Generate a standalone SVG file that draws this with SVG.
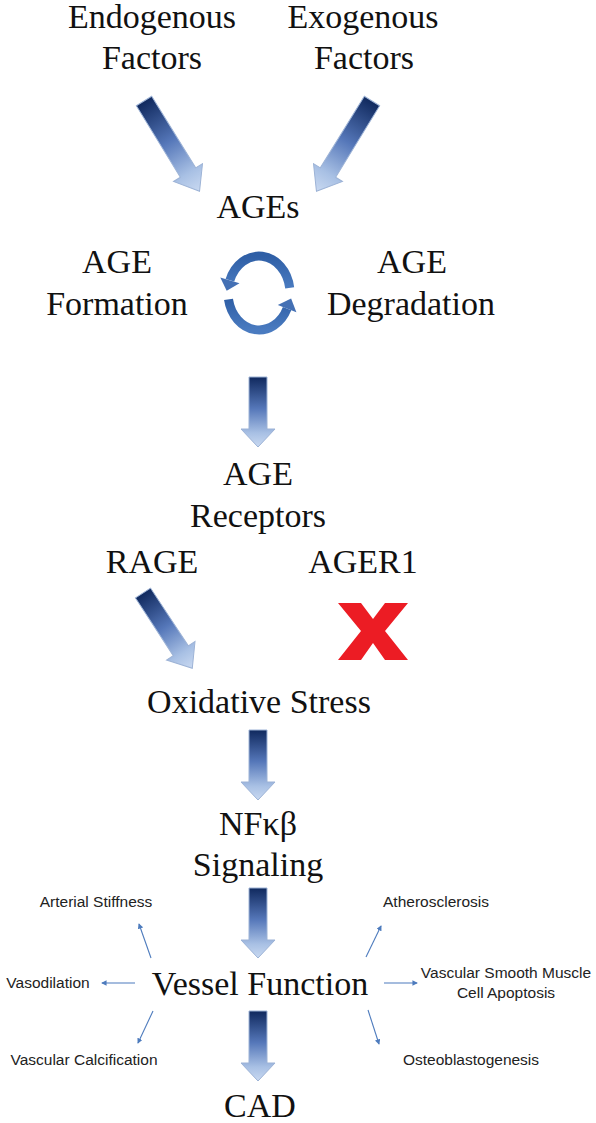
<svg xmlns="http://www.w3.org/2000/svg" width="596" height="1123" viewBox="0 0 596 1123">
  <style>
    .t { font-family: "Liberation Serif", "Times New Roman", serif; font-size: 34px; fill: #111; text-anchor: middle; }
    .s { font-family: "Liberation Sans", Arial, sans-serif; font-size: 15.5px; fill: #222; text-anchor: middle; }
    .blk { fill: url(#grad); stroke: #9db3d6; stroke-width: 1; }
    .thin { stroke: #4d7bbd; stroke-width: 1.1; fill: none; marker-end: url(#sa); }
    .cyc { fill: none; stroke: url(#cgrad); stroke-width: 9; }
    .cyh { fill: #4470b4; }
  </style>
  <defs>
    <linearGradient id="grad" x1="0" y1="0" x2="0" y2="1">
      <stop offset="0" stop-color="#10295e"/>
      <stop offset="0.45" stop-color="#5577b9"/>
      <stop offset="0.8" stop-color="#a8c0e4"/>
      <stop offset="1" stop-color="#c9d9f1"/>
    </linearGradient>
    <linearGradient id="cgrad" x1="0" y1="0" x2="0" y2="1">
      <stop offset="0" stop-color="#2f5fa6"/>
      <stop offset="1" stop-color="#4a7bc0"/>
    </linearGradient>
    <marker id="sa" viewBox="0 0 6 6" refX="5" refY="3" markerWidth="5" markerHeight="5" orient="auto">
      <path d="M0,0 L6,3 L0,6 z" fill="#4d7bbd"/>
    </marker>
    <path id="av" d="M-9,0 H9 V52 H17 L0,70 L-17,52 H-9 Z"/>
    <path id="ad" d="M-9,0 H9 V84 H17 L0,106 L-17,84 H-9 Z"/>
    <path id="ar" d="M-9,0 H9 V69 H17 L0,90 L-17,69 H-9 Z"/>
  </defs>

  <g id="connectors">
    <use href="#ad" class="blk" transform="translate(144,101) rotate(-31.6)"/>
    <use href="#ad" class="blk" transform="translate(372,101) rotate(31.6)"/>
    <use href="#av" class="blk" transform="translate(258,377)"/>
    <use href="#ar" class="blk" transform="translate(143,593) rotate(-33.2)"/>
    <use href="#av" class="blk" transform="translate(258,730)"/>
    <use href="#av" class="blk" transform="translate(258,888)"/>
    <use href="#av" class="blk" transform="translate(258,1011)"/>
    <g id="cycle">
      <path class="cyc" d="M289.7,287.9 A31,37 0 0 0 229.9,280.3"/>
      <polygon class="cyh" points="239.5,283.2 220.3,277.4 226.7,290.8"/>
      <path class="cyc" d="M228.5,299.4 A31,37 0 0 0 287.1,308.6"/>
      <polygon class="cyh" points="296.4,312.2 277.8,305.0 291.1,298.4"/>
    </g>
    <line class="thin" x1="151" y1="958" x2="139" y2="924"/>
    <line class="thin" x1="366" y1="957" x2="381" y2="926"/>
    <line class="thin" x1="135" y1="983" x2="102" y2="983"/>
    <line class="thin" x1="384" y1="983" x2="417" y2="983"/>
    <line class="thin" x1="153" y1="1011" x2="138" y2="1043"/>
    <line class="thin" x1="368" y1="1010" x2="379" y2="1044"/>
  </g>

  <g id="endogenous"><text class="t" x="152" y="28">Endogenous</text><text class="t" x="152" y="69">Factors</text></g>
  <g id="exogenous"><text class="t" x="363" y="28">Exogenous</text><text class="t" x="364" y="69">Factors</text></g>
  <g id="ages"><text class="t" x="258" y="218">AGEs</text></g>
  <g id="formation"><text class="t" x="117" y="273">AGE</text><text class="t" x="117" y="315">Formation</text></g>
  <g id="degradation"><text class="t" x="412" y="273">AGE</text><text class="t" x="411" y="315">Degradation</text></g>
  <g id="receptors"><text class="t" x="258" y="485">AGE</text><text class="t" x="258" y="527">Receptors</text></g>
  <g id="rage"><text class="t" x="152" y="573">RAGE</text></g>
  <g id="ager1"><text class="t" x="363" y="573">AGER1</text>
    <polygon fill="#ec1c24" points="338,603 361,603 373,619 385,603 408,603 385,631 408,660 385,660 373,643 361,660 338,660 361,631"/>
  </g>
  <g id="oxidative"><text class="t" x="259" y="713">Oxidative Stress</text></g>
  <g id="nfkb"><text class="t" x="258" y="835">NFκβ</text><text class="t" x="258" y="876">Signaling</text></g>
  <g id="vessel"><text class="t" x="260" y="995">Vessel Function</text></g>
  <g id="cad"><text class="t" x="260" y="1117">CAD</text></g>
  <g id="arterial"><text class="s" x="96" y="907">Arterial Stiffness</text></g>
  <g id="athero"><text class="s" x="436" y="907">Atherosclerosis</text></g>
  <g id="vaso"><text class="s" x="48" y="988">Vasodilation</text></g>
  <g id="vsmc"><text class="s" x="506" y="978">Vascular Smooth Muscle</text><text class="s" x="506" y="998">Cell Apoptosis</text></g>
  <g id="calc"><text class="s" x="84" y="1065">Vascular Calcification</text></g>
  <g id="osteo"><text class="s" x="471" y="1065">Osteoblastogenesis</text></g>
</svg>
